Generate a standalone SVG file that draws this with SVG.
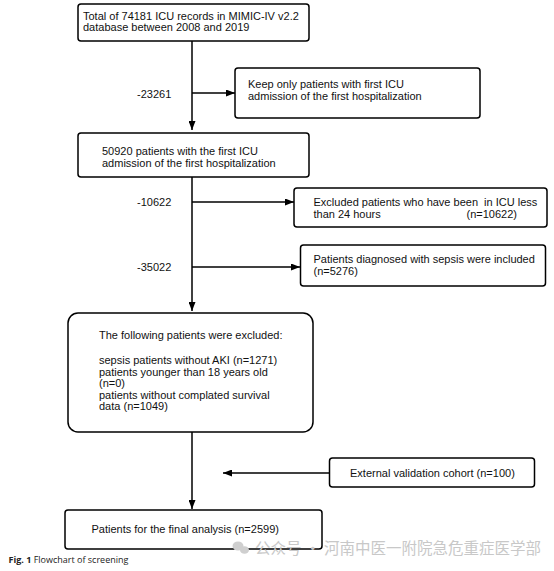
<svg xmlns="http://www.w3.org/2000/svg" width="554" height="571" viewBox="0 0 554 571">
<defs>
<marker id="ah" markerWidth="9" markerHeight="7" refX="9" refY="3.5" orient="auto" markerUnits="userSpaceOnUse">
<path d="M0,0 L9,3.5 L0,7 Z" fill="#000"/>
</marker>
<style>
.box{fill:#fff;stroke:#000;stroke-width:1.5}
.t{font-family:"Liberation Sans",Arial,sans-serif;font-size:11px;fill:#111}
.ln{stroke:#000;stroke-width:1.5;fill:none}
</style>
</defs>
<rect width="554" height="571" fill="#fff"/>
<g id="connectors">
<line class="ln" x1="192" y1="41" x2="192" y2="130" marker-end="url(#ah)"/>
<line class="ln" x1="192" y1="93" x2="235" y2="93" marker-end="url(#ah)"/>
<line class="ln" x1="192" y1="177" x2="192" y2="311" marker-end="url(#ah)"/>
<line class="ln" x1="192" y1="202" x2="294" y2="202" marker-end="url(#ah)"/>
<line class="ln" x1="192" y1="267" x2="300" y2="267" marker-end="url(#ah)"/>
<line class="ln" x1="192" y1="432" x2="192" y2="509" marker-end="url(#ah)"/>
<line class="ln" x1="329" y1="473" x2="223" y2="473" marker-end="url(#ah)"/>
<text class="t" x="137" y="97.5">-23261</text>
<text class="t" x="137" y="206">-10622</text>
<text class="t" x="137" y="271">-35022</text>
</g>
<g id="n1">
<rect class="box" x="78" y="4" width="231" height="37" rx="3"/>
<text class="t" x="83" y="19.5">Total of 74181 ICU records in MIMIC-IV v2.2</text>
<text class="t" x="83" y="31">database between 2008 and 2019</text>
</g>
<g id="n2">
<rect class="box" x="235" y="68" width="245" height="50" rx="3"/>
<text class="t" x="248" y="88">Keep only patients with first ICU</text>
<text class="t" x="248" y="100">admission of the first hospitalization</text>
</g>
<g id="n3">
<rect class="box" x="78" y="133" width="231" height="44" rx="3"/>
<text class="t" x="102" y="155">50920 patients with the first ICU</text>
<text class="t" x="102" y="167">admission of the first hospitalization</text>
</g>
<g id="n4">
<rect class="box" x="294" y="188" width="253" height="39" rx="3"/>
<text class="t" x="313.5" y="206" xml:space="preserve">Excluded patients who have been  in ICU less</text>
<text class="t" x="313.5" y="217.5">than 24 hours</text>
<text class="t" x="466.5" y="217.5">(n=10622)</text>
</g>
<g id="n5">
<rect class="box" x="300.5" y="245" width="245" height="41" rx="3"/>
<text class="t" x="313.5" y="263">Patients diagnosed with sepsis were included</text>
<text class="t" x="313.5" y="275">(n=5276)</text>
</g>
<g id="n6">
<rect class="box" x="68" y="313" width="245" height="119" rx="10"/>
<text class="t" x="99" y="339">The following patients were excluded:</text>
<text class="t" x="99" y="364">sepsis patients without AKI (n=1271)</text>
<text class="t" x="99" y="375.5">patients younger than 18 years old</text>
<text class="t" x="99" y="387">(n=0)</text>
<text class="t" x="99" y="398.5">patients without complated survival</text>
<text class="t" x="99" y="410">data (n=1049)</text>
</g>
<g id="n7">
<rect class="box" x="329.5" y="458" width="205" height="29" rx="3"/>
<text class="t" x="350" y="476.5">External validation cohort (n=100)</text>
</g>
<g id="n8">
<rect class="box" x="65" y="510" width="257" height="39" rx="3"/>
<text class="t" x="91.5" y="533">Patients for the final analysis (n=2599)</text>
</g>
<text x="8.5" y="563" font-family="'Open Sans','Liberation Sans',sans-serif" font-size="9" fill="#222"><tspan font-weight="bold">Fig. 1</tspan>  Flowchart of screening</text>
<g fill="#cfcfcf">
<ellipse cx="238" cy="546" rx="5.5" ry="4.5"/>
<ellipse cx="244.5" cy="550" rx="4.5" ry="3.8"/>
</g>
<text x="255" y="554" font-family="'Noto Sans CJK SC',sans-serif" font-size="15.5" fill="#c8c8c8">公众号 · 河南中医一附院急危重症医学部</text>
</svg>
